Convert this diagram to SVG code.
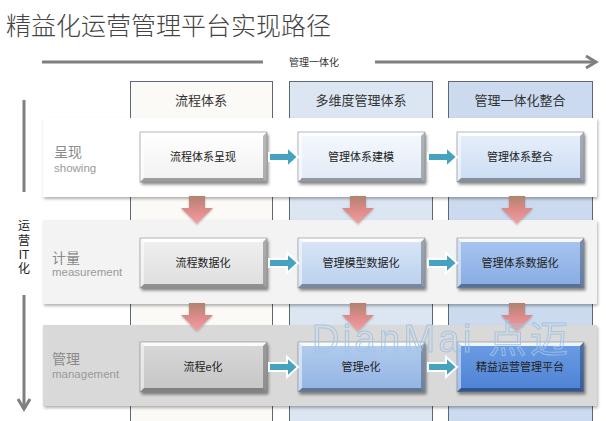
<svg xmlns="http://www.w3.org/2000/svg" xmlns:xlink="http://www.w3.org/1999/xlink" width="606" height="421" viewBox="0 0 606 421">
<style>
text{font-family:"Liberation Sans","Noto Sans CJK SC",sans-serif}
.cjk{font-family:"Noto Sans CJK SC","Liberation Sans",sans-serif}
.col{stroke:#5f6675;stroke-width:1}
.hdr{font-size:13px;fill:#333;text-anchor:middle}
.box{font-size:11px;fill:#222;text-anchor:middle}
.lab{font-size:14px;fill:#8a8a8a}
.sub{font-size:11.5px;fill:#9a9a9a}
.garrow{stroke:#7f7f7f;stroke-width:3;fill:none}
.band{filter:url(#sh)}
.barrow{fill:#46a3bf;stroke:#fff;stroke-width:2}
.parrow{fill:url(#pk);filter:url(#sh2)}
</style>
<defs>
<filter id="sh" x="-5%" y="-10%" width="110%" height="130%"><feDropShadow dx="1" dy="2" stdDeviation="1.5" flood-color="#000" flood-opacity="0.3"/></filter>
<filter id="sh2" x="-30%" y="-30%" width="160%" height="160%"><feDropShadow dx="0" dy="1" stdDeviation="1" flood-color="#000" flood-opacity="0.25"/></filter>
<filter id="bs" x="-10%" y="-20%" width="130%" height="150%"><feDropShadow dx="1.5" dy="2.5" stdDeviation="1.5" flood-color="#000" flood-opacity="0.45"/></filter>
<linearGradient id="pk" x1="0" y1="0" x2="0" y2="1"><stop offset="0" stop-color="#b0846f"/><stop offset="0.5" stop-color="#de8a8a"/><stop offset="1" stop-color="#f0a0a0"/></linearGradient>
<linearGradient id="g11" x1="0" y1="0" x2="0" y2="1"><stop offset="0" stop-color="#ffffff"/><stop offset="1" stop-color="#f1f1f1"/></linearGradient>
<linearGradient id="g12" x1="0" y1="0" x2="0" y2="1"><stop offset="0" stop-color="#f5f9fd"/><stop offset="1" stop-color="#e0eaf6"/></linearGradient>
<linearGradient id="g13" x1="0" y1="0" x2="0" y2="1"><stop offset="0" stop-color="#e8f0fb"/><stop offset="1" stop-color="#cbdcf3"/></linearGradient>
<linearGradient id="g21" x1="0" y1="0" x2="0" y2="1"><stop offset="0" stop-color="#f0f0f0"/><stop offset="1" stop-color="#dedede"/></linearGradient>
<linearGradient id="g22" x1="0" y1="0" x2="0" y2="1"><stop offset="0" stop-color="#d9e6f7"/><stop offset="1" stop-color="#b9d0ee"/></linearGradient>
<linearGradient id="g23" x1="0" y1="0" x2="0" y2="1"><stop offset="0" stop-color="#a9c6ef"/><stop offset="1" stop-color="#86abe2"/></linearGradient>
<linearGradient id="g31" x1="0" y1="0" x2="0" y2="1"><stop offset="0" stop-color="#d8d8d8"/><stop offset="1" stop-color="#c6c6c6"/></linearGradient>
<linearGradient id="g32" x1="0" y1="0" x2="0" y2="1"><stop offset="0" stop-color="#b3cdee"/><stop offset="1" stop-color="#92b3e4"/></linearGradient>
<linearGradient id="g33" x1="0" y1="0" x2="0" y2="1"><stop offset="0" stop-color="#6c9de4"/><stop offset="1" stop-color="#4d82d4"/></linearGradient>
<g id="bevel">
<polygon points="0,0 127,0 123,4 4,4" fill="#fff" opacity="0.9"/>
<polygon points="0,0 4,4 4,46 0,50" fill="#fff" opacity="0.5"/>
<polygon points="127,0 127,50 123,46 123,4" fill="#000" opacity="0.28"/>
<polygon points="0,50 127,50 123,46 4,46" fill="#000" opacity="0.35"/>
<rect x="0" y="0" width="127" height="50" fill="none" stroke="#8a8a8a" stroke-width="0.6"/>
</g>
</defs>
<rect width="606" height="421" fill="#fff"/>

<text x="6" y="35" class="cjk" font-size="25" font-weight="300" fill="#444">精益化运营管理平台实现路径</text>

<g id="top-axis">
<line class="garrow" x1="42" y1="62" x2="263" y2="62"/>
<line class="garrow" x1="375" y1="62" x2="594" y2="62"/>
<polyline class="garrow" points="586,56 596,62 586,68"/>
<text x="314" y="66" font-size="10" fill="#333" text-anchor="middle">管理一体化</text>
</g>

<g id="columns">
<rect class="col" x="130.5" y="81.5" width="142" height="345" fill="#fcfaf7"/>
<rect class="col" x="289.5" y="81.5" width="143" height="345" fill="#dce6f2"/>
<rect class="col" x="448.5" y="81.5" width="144" height="345" fill="#cbdaef"/>
<text class="hdr" x="201" y="105">流程体系</text>
<text class="hdr" x="361" y="105">多维度管理体系</text>
<text class="hdr" x="520" y="105">管理一体化整合</text>
</g>

<g id="side-axis">
<line class="garrow" x1="24" y1="100" x2="24" y2="192"/>
<line class="garrow" x1="24" y1="295" x2="24" y2="407"/>
<polyline class="garrow" points="18,399 24,409 30,399"/>
<g font-size="12" fill="#222" text-anchor="middle">
<text x="24" y="230">运</text>
<text x="24" y="245">营</text>
<text x="24" y="259">IT</text>
<text x="24" y="273">化</text>
</g>
</g>

<g id="row-showing">
<rect class="band" x="43" y="118" width="554" height="79" fill="#ffffff"/>
<text class="lab" x="54" y="157">呈现</text>
<text class="sub" x="54" y="172">showing</text>
</g>
<g id="row-measurement">
<rect class="band" x="43" y="220" width="554" height="84" fill="#f3f3f3"/>
<text class="lab" x="52" y="263">计量</text>
<text class="sub" x="52" y="276">measurement</text>
</g>
<g id="row-management">
<rect class="band" x="43" y="325" width="554" height="81" fill="#d9d9d9"/>
<text class="lab" x="52" y="364">管理</text>
<text class="sub" x="52" y="378">management</text>
</g>

<g id="n11"><rect x="140" y="132" width="127" height="50" fill="url(#g11)" filter="url(#bs)"/><use xlink:href="#bevel" x="140" y="132"/><text class="box" x="203" y="161">流程体系呈现</text></g>
<g id="n12"><rect x="298" y="132" width="127" height="50" fill="url(#g12)" filter="url(#bs)"/><use xlink:href="#bevel" x="298" y="132"/><text class="box" x="361" y="161">管理体系建模</text></g>
<g id="n13"><rect x="457" y="132" width="127" height="50" fill="url(#g13)" filter="url(#bs)"/><use xlink:href="#bevel" x="457" y="132"/><text class="box" x="520" y="161">管理体系整合</text></g>

<g id="n21"><rect x="140" y="238" width="127" height="50" fill="url(#g21)" filter="url(#bs)"/><use xlink:href="#bevel" x="140" y="238"/><text class="box" x="203" y="267">流程数据化</text></g>
<g id="n22"><rect x="298" y="238" width="127" height="50" fill="url(#g22)" filter="url(#bs)"/><use xlink:href="#bevel" x="298" y="238"/><text class="box" x="361" y="267">管理模型数据化</text></g>
<g id="n23"><rect x="457" y="238" width="127" height="50" fill="url(#g23)" filter="url(#bs)"/><use xlink:href="#bevel" x="457" y="238"/><text class="box" x="520" y="267">管理体系数据化</text></g>

<g id="n31"><rect x="140" y="342" width="127" height="50" fill="url(#g31)" filter="url(#bs)"/><use xlink:href="#bevel" x="140" y="342"/><text class="box" x="203" y="371">流程e化</text></g>
<g id="n32"><rect x="298" y="342" width="127" height="50" fill="url(#g32)" filter="url(#bs)"/><use xlink:href="#bevel" x="298" y="342"/><text class="box" x="361" y="371">管理e化</text></g>
<g id="n33"><rect x="457" y="342" width="127" height="50" fill="url(#g33)" filter="url(#bs)"/><use xlink:href="#bevel" x="457" y="342"/><text class="box" x="520" y="371" fill="#1a2a4a">精益运营管理平台</text></g>

<g id="connectors">
<polygon class="barrow" points="269,153 287,153 287,147 298,157 287,167 287,161 269,161"/>
<polygon class="barrow" points="428,153 446,153 446,147 457,157 446,167 446,161 428,161"/>
<polygon class="barrow" points="269,259 287,259 287,253 298,263 287,273 287,267 269,267"/>
<polygon class="barrow" points="428,259 446,259 446,253 457,263 446,273 446,267 428,267"/>
<polygon class="barrow" points="269,363 287,363 287,357 298,367 287,377 287,371 269,371"/>
<polygon class="barrow" points="428,363 446,363 446,357 457,367 446,377 446,371 428,371"/>

<polygon class="parrow" points="189,196 205,196 205,208 213,208 197,224 181,208 189,208"/>
<polygon class="parrow" points="350,196 366,196 366,208 374,208 358,224 342,208 350,208"/>
<polygon class="parrow" points="509,196 525,196 525,208 533,208 517,224 501,208 509,208"/>
<polygon class="parrow" points="189,303 205,303 205,315 213,315 197,331 181,315 189,315"/>
<polygon class="parrow" points="350,303 366,303 366,315 374,315 358,331 342,315 350,315"/>
<polygon class="parrow" points="509,303 525,303 525,315 533,315 517,331 501,315 509,315"/>
</g>

<text x="312" y="352" font-size="38" textLength="256" lengthAdjust="spacing" fill="none" stroke="#9fc3e6" stroke-width="1" opacity="0.9">DianMai 点迈</text>
</svg>
